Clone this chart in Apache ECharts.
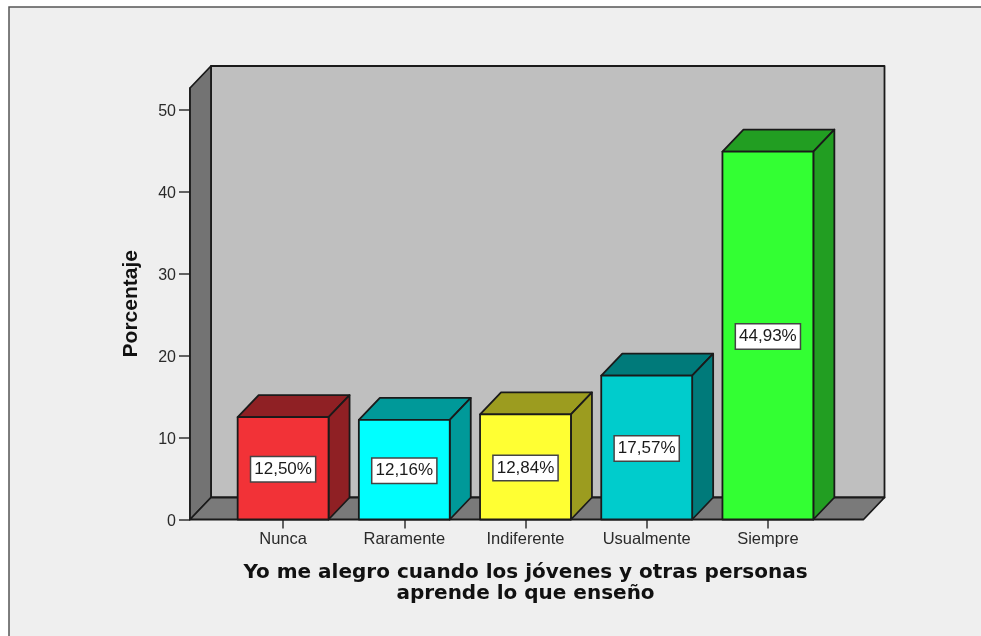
<!DOCTYPE html>
<html>
<head>
<meta charset="utf-8">
<title>Porcentaje</title>
<script src="https://cdn.jsdelivr.net/npm/echarts@6/dist/echarts.min.js"></script>
<style>
  html, body { margin: 0; padding: 0; background: #ffffff; }
  #chart { width: 981px; height: 636px; }
</style>
</head>
<body>
<div id="chart"></div>
<script>
const categories = ['Nunca', 'Raramente', 'Indiferente', 'Usualmente', 'Siempre'];
const percentages = [12.5, 12.16, 12.84, 17.57, 44.93];
const yTicks = [0, 10, 20, 30, 40, 50];
const frontColors = ['#f23237', '#00ffff', '#ffff33', '#00cccc', '#33ff33'];
const sideColors = ['#8f2024', '#009999', '#9c9c1f', '#007a7a', '#229e22'];

const xName = 'Yo me alegro cuando los jóvenes y otras personas\naprende lo que enseño';
const yName = 'Porcentaje';

// 3D look: depth of the box, and how far the floor runs past the category bands
const depthX = 21;
const depthY = -22;
const floorLeft = 32.5;
const floorRight = 35;
const edge = { stroke: '#1a1a1a', lineWidth: 1.8, lineJoin: 'round' };

const chart = echarts.init(document.getElementById('chart'));

function poly(points, fill) {
  return { type: 'polygon', shape: { points }, style: { fill, ...edge } };
}

function renderWalls(params) {
  const g = params.coordSys;
  const l = g.x - floorLeft;
  const r = g.x + g.width + floorRight;
  const t = g.y;
  const b = g.y + g.height;
  return {
    type: 'group',
    children: [
      poly([[l + depthX, t + depthY], [r + depthX, t + depthY], [r + depthX, b + depthY], [l + depthX, b + depthY]], '#bfbfbf'),
      poly([[l, t], [l + depthX, t + depthY], [l + depthX, b + depthY], [l, b]], '#737373'),
      poly([[l, b], [l + depthX, b + depthY], [r + depthX, b + depthY], [r, b]], '#7a7a7a')
    ]
  };
}

function renderBar(params, api) {
  const i = params.dataIndex;
  const top = api.coord([i, api.value(1)]);
  const base = api.coord([i, 0]);
  const w = api.size([1, 0])[0] * 0.75;
  const l = top[0] - w / 2;
  const r = top[0] + w / 2;
  return {
    type: 'group',
    children: [
      poly([[l, top[1]], [l + depthX, top[1] + depthY], [r + depthX, top[1] + depthY], [r, top[1]]], sideColors[i]),
      poly([[r, top[1]], [r + depthX, top[1] + depthY], [r + depthX, base[1] + depthY], [r, base[1]]], sideColors[i]),
      poly([[l, top[1]], [r, top[1]], [r, base[1]], [l, base[1]]], frontColors[i]),
      {
        type: 'text',
        x: top[0],
        y: (top[1] + base[1]) / 2 + 1,
        style: {
          text: api.value(1).toFixed(2).replace('.', ',') + '%',
          fontFamily: 'Liberation Sans',
          fontSize: 17,
          fill: '#1a1a1a',
          align: 'center',
          verticalAlign: 'middle',
          backgroundColor: '#ffffff',
          borderColor: '#444444',
          borderWidth: 1.5,
          padding: [4, 3, 3, 3]
        }
      }
    ]
  };
}

chart.setOption({
  animation: false,
  backgroundColor: '#ffffff',
  graphic: [
    { type: 'rect', z: -10, shape: { x: 9, y: 7, width: 972, height: 629 }, style: { fill: '#efefef' } },
    { type: 'polyline', z: -9, shape: { points: [[9, 636], [9, 7], [981, 7]] }, style: { stroke: '#555555', lineWidth: 1.5, fill: null } }
  ],
  grid: { left: 222.5, right: 981 - 828.5, top: 88, bottom: 116.5 },
  xAxis: {
    type: 'category',
    data: categories,
    axisLine: { show: false },
    axisTick: { show: true, alignWithLabel: true, length: 9, lineStyle: { color: '#333333', width: 1.5 } },
    axisLabel: { color: '#2a2a2a', fontFamily: 'Liberation Sans', fontSize: 16.5, margin: 11 },
    name: xName,
    nameLocation: 'middle',
    nameGap: 43,
    nameTextStyle: { color: '#111111', fontFamily: 'DejaVu Sans', fontWeight: 'bold', fontSize: 20, lineHeight: 21 }
  },
  yAxis: {
    type: 'value',
    min: 0,
    max: 52.69,
    offset: 32.5,
    splitLine: { show: false },
    axisLine: { show: true, lineStyle: { color: '#1a1a1a', width: 1.5 } },
    axisTick: { show: true, customValues: yTicks, length: 11, lineStyle: { color: '#333333', width: 1.5 } },
    // labels sit about 2px below their tick
    axisLabel: { customValues: yTicks, color: '#2a2a2a', fontFamily: 'Liberation Sans', fontSize: 16, margin: 14, verticalAlign: 'top', lineHeight: 4 },
    name: yName,
    nameLocation: 'middle',
    nameGap: 48,
    nameTextStyle: { color: '#111111', fontFamily: 'Liberation Sans', fontWeight: 'bold', fontSize: 21 }
  },
  series: [
    { type: 'custom', silent: true, clip: false, z: 1, renderItem: renderWalls, data: [[0, 0]] },
    {
      type: 'custom',
      clip: false,
      z: 2,
      renderItem: renderBar,
      encode: { x: 0, y: 1 },
      data: percentages.map((v, i) => [i, v])
    }
  ]
});
</script>
</body>
</html>
